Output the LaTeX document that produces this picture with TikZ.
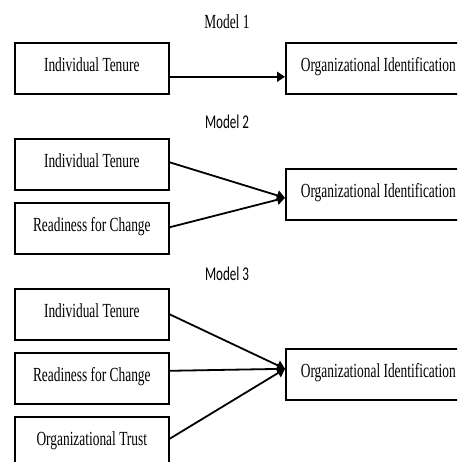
\documentclass[tikz,border=0pt]{standalone}
\usepackage{fontspec}
\usepackage{graphicx}
\setmainfont{Liberation Serif}
\newfontfamily\calfont{Carlito}
\usetikzlibrary{arrows.meta,calc}
\newcommand\sx[1]{\scalebox{0.67}[1]{#1}}
\tikzset{
  box/.style={draw, line width=1.6pt, inner sep=0pt, text height=28.5pt, text depth=22.5pt,
    minimum height=51pt, anchor=north west, font=\fontsize{20}{24}\selectfont},
  lbox/.style={box, minimum width=154pt},
  rbox/.style={box, minimum width=185pt},
  title/.style={anchor=base, inner sep=0pt},
  conn/.style={line width=1.8pt, -{Triangle[length=8pt,width=10pt]}}
}
\begin{document}
\begin{tikzpicture}[x=1pt,y=-1pt]
\useasboundingbox (0,0) rectangle (457,462);
\clip (0,0) rectangle (457,462);
% Model 1
\node[title, font=\fontsize{20}{24}\selectfont] (t1) at (227,29) {\sx{Model 1}};
\node[lbox] (a1) at (14,42) {\sx{Individual Tenure}};
\node[rbox] (o1) at (285,42) {\sx{Organizational Identification}};
\draw[conn] ($(a1.east)+(0,8.5)$) -- ($(o1.west)+(0,8.5)$);
% Model 2
\node[title, font=\calfont\fontsize{19.5}{24}\selectfont] (t2) at (227,129) {\sx{Model 2}};
\node[lbox] (a2) at (14,138) {\sx{Individual Tenure}};
\node[lbox] (b2) at (14,202) {\sx{Readiness for Change}};
\node[rbox] (o2) at (285,168) {\sx{Organizational Identification}};
\coordinate (p2) at ($(o2.west)+(0,3.5)$);
\draw[conn] ($(a2.east)+(0,-2)$) -- (p2);
\draw[conn] ($(b2.east)+(0,-1)$) -- (p2);
% Model 3
\node[title, font=\calfont\fontsize{19.5}{24}\selectfont] (t3) at (227,280) {\sx{Model 3}};
\node[lbox] (a3) at (14,288) {\sx{Individual Tenure}};
\node[lbox] (b3) at (14,352) {\sx{Readiness for Change}};
\node[lbox] (c3) at (14,416) {\sx{Organizational Trust}};
\node[rbox] (o3) at (285,348) {\sx{Organizational Identification}};
\coordinate (p3) at ($(o3.west)+(0,-5.5)$);
\draw[conn] (a3.east) -- (p3);
\draw[conn] ($(b3.east)+(0,-7.5)$) -- (p3);
\draw[conn] ($(c3.east)+(0,-3.5)$) -- (p3);
\end{tikzpicture}
\end{document}
